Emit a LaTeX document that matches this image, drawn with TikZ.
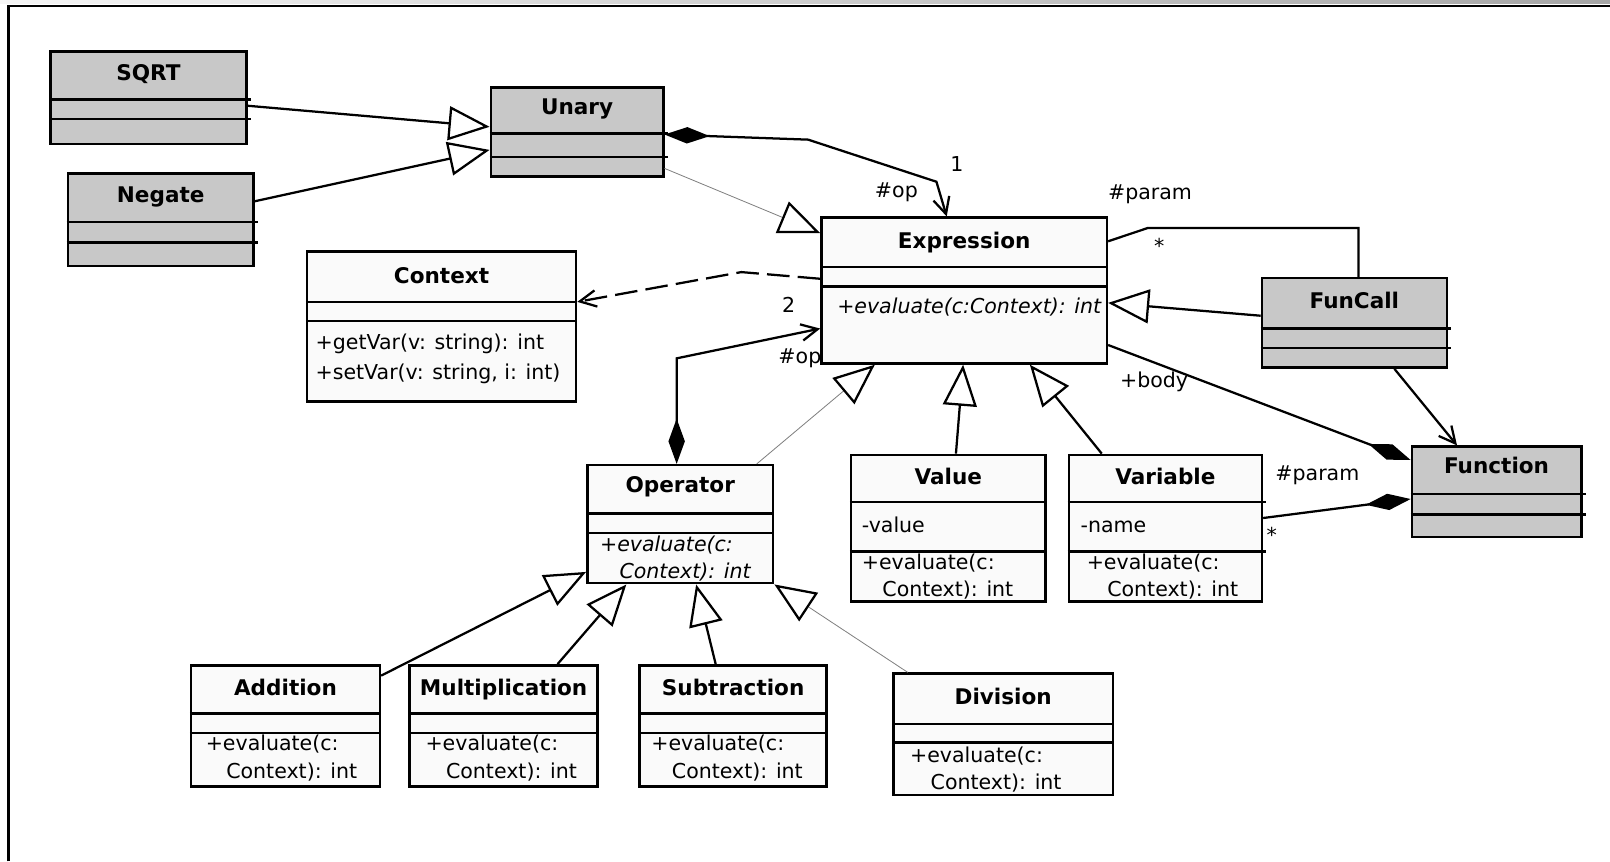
\documentclass[tikz,border=0pt]{standalone}
\usepackage{fontspec}
\setmainfont{DejaVu Sans}
\usepackage{tikz}
\usetikzlibrary{arrows.meta,fit}
\definecolor{boxgray}{RGB}{200,200,200}
\definecolor{boxwhite}{RGB}{250,250,250}
\tikzset{
  classbox/.style={draw, line width=1.2pt, inner sep=0pt, fill=boxwhite},
  greybox/.style={classbox, fill=boxgray},
  divider/.style={line width=1.2pt},
  classname/.style={anchor=base, inner sep=0pt, font=\fontsize{10.5}{12}\selectfont\bfseries},
  member/.style={anchor=base west, inner sep=0pt, align=left, font=\fontsize{10}{13.4}\selectfont},
  role/.style={anchor=base, inner sep=0pt, font=\fontsize{10}{12}\selectfont},
  gen/.style={line width=1.1pt, -{Triangle[open, length=20pt, width=16.5pt, line width=1.1pt]}},
  thin gen/.style={line width=0.4pt, draw=gray, -{Triangle[open, length=20pt, width=16.5pt, line width=1.1pt, color=black]}},
  comp/.style={line width=1.1pt, {Diamond[length=22pt, width=8pt]}-{Straight Barb[length=8pt, width=8pt, line width=1.1pt]}},
  whole/.style={line width=1.1pt, -{Diamond[length=22pt, width=8pt]}},
  nav/.style={line width=1.1pt, -{Straight Barb[length=8pt, width=8pt, line width=1.1pt]}},
  dep/.style={nav, dash pattern=on 11pt off 4pt}
}
\newcommand{\compartments}[4][]{%
  \draw[divider,#1] (#2.west |- 0,#3) -- (#2.east |- 0,#3);
  \draw[divider,#1] (#2.west |- 0,#4) -- (#2.east |- 0,#4);}

\begin{document}
\begin{tikzpicture}[x=0.5pt, y=-0.5pt]
\useasboundingbox (0,0) rectangle (1568,839);
% frame
\shade[left color=gray!8, right color=gray!70] (0,0) rectangle (1568,3);
\draw[line width=1.2pt] (8.5,839) -- (8.5,6) -- (1568,6);

% classes
\node[greybox, fit={(49,50) (240,140)}] (sqrt) {};
\node[greybox, fit={(66,169) (247,259)}] (negate) {};
\node[greybox, fit={(478,85) (646,172)}] (unary) {};
\node[classbox, fit={(800,212) (1078,354)}] (expr) {};
\node[classbox, fit={(299,245) (561,391)}] (ctx) {};
\node[greybox, fit={(1229,271) (1409,358)}] (funcall) {};
\node[greybox, fit={(1375,435) (1540,523)}] (function) {};
\node[classbox, fit={(572,453) (753,568)}] (operator) {};
\node[classbox, fit={(829,443) (1018,586)}] (value) {};
\node[classbox, fit={(1041,443) (1229,586)}] (variable) {};
\node[classbox, fit={(186,648) (370,766)}] (addition) {};
\node[classbox, fit={(399,648) (582,766)}] (mult) {};
\node[classbox, fit={(623,648) (805,766)}] (sub) {};
\node[classbox, fit={(870,656) (1084,774)}] (division) {};

\compartments[shorten >=-1.5pt]{sqrt}{97}{116}
\compartments[shorten >=-1.5pt]{negate}{216}{236}
\compartments[shorten >=-1.5pt]{unary}{130}{153}
\compartments{expr}{260}{279}
\compartments{ctx}{294}{312.5}
\compartments[shorten >=-1.5pt]{funcall}{320}{339}
\compartments[shorten >=-1.5pt]{function}{481}{501}
\compartments{operator}{500}{519}
\compartments{value}{489}{537}
\compartments[shorten >=-1.5pt]{variable}{489}{537}
\compartments{addition}{695}{714}
\compartments{mult}{695}{714}
\compartments{sub}{695}{714}
\compartments{division}{705}{723}

% names
\node[classname] (sqrt-t) at (sqrt.north |- 0,78) {SQRT};
\node[classname] (negate-t) at (negate.north |- 0,197) {Negate};
\node[classname] (unary-t) at (unary.north |- 0,112) {Unary};
\node[classname] (expr-t) at (expr.north |- 0,242) {Expression};
\node[classname] (ctx-t) at (ctx.north |- 0,276) {Context};
\node[classname] (funcall-t) at (funcall.north |- 0,300) {FunCall};
\node[classname] (function-t) at (function.north |- 0,461) {Function};
\node[classname] (operator-t) at (operator.north |- 0,480) {Operator};
\node[classname] (value-t) at (value.north |- 0,472) {Value};
\node[classname] (variable-t) at (variable.north |- 0,472) {Variable};
\node[classname] (addition-t) at (addition.north |- 0,677) {Addition};
\node[classname] (mult-t) at (mult.north |- 0,677) {Multiplication};
\node[classname] (sub-t) at (sub.north |- 0,677) {Subtraction};
\node[classname] (division-t) at (division.north |- 0,686) {Division};

% members (placed at the baseline of their last line)
\node[member, font=\fontsize{10}{13.4}\selectfont\itshape] (expr-m) at (815,305) {+evaluate(c:Context): int};
\node[member, font=\fontsize{10}{15}\selectfont] (ctx-m) at (307,370) {+getVar(v: string): int\\+setVar(v: string, i: int)};
\node[member, font=\fontsize{10}{12.8}\selectfont\itshape] (operator-m) at (584,563) {+evaluate(c:\\\hspace*{9.5pt}Context): int};
\node[member] (value-a) at (839,519) {-value};
\node[member] (value-m) at (839,581) {+evaluate(c:\\\hspace*{10pt}Context): int};
\node[member] (variable-a) at (1052,519) {-name};
\node[member] (variable-m) at (1058,581) {+evaluate(c:\\\hspace*{10pt}Context): int};
\node[member] (addition-m) at (200,758) {+evaluate(c:\\\hspace*{10pt}Context): int};
\node[member] (mult-m) at (414,758) {+evaluate(c:\\\hspace*{10pt}Context): int};
\node[member] (sub-m) at (634,758) {+evaluate(c:\\\hspace*{10pt}Context): int};
\node[member] (division-m) at (886,769) {+evaluate(c:\\\hspace*{10pt}Context): int};

% generalisations
\draw[gen] (sqrt.east |- 0,103) -- (unary.west |- 0,123.5);
\draw[gen] (negate.east |- 0,196) -- (unary.west |- 0,146);
\draw[thin gen] (unary.east |- 0,164) -- (expr.west |- 0,227);
\draw[thin gen] (operator.north -| 737,0) -- (expr.south -| 852,0);
\draw[gen] (value.north -| 931,0) -- (expr.south -| 938,0);
\draw[gen] (variable.north -| 1073,0) -- (expr.south -| 1003,0);
\draw[gen] (funcall.west |- 0,307.5) -- (expr.east |- 0,295);
\draw[gen] (addition.east |- 0,658) -- (operator.west |- 0,557);
\draw[gen] (mult.north -| 543,0) -- (operator.south -| 610,0);
\draw[gen] (sub.north -| 697,0) -- (operator.south -| 678,0);
\draw[thin gen] (division.north -| 884,0) -- (operator.south east);

% associations
\draw[comp] (unary.east |- 0,131) -- (787,136) -- (912,177) -- (expr.north -| 922,0);
\draw[comp] (operator.north -| 659,0) -- (659,349) -- (expr.west |- 0,320);
\draw[comp, -] (funcall.north -| 1323,0) -- (1323,222) -- (1118,222) -- (expr.east |- 0,235);
\draw[whole] (expr.east |- 0,336) -- (function.west |- 0,448);
\draw[whole] (variable.east |- 0,504.5) -- (function.west |- 0,486);
\draw[nav] (funcall.south -| 1358,0) -- (function.north -| 1419,0);
\draw[dep] (expr.west |- 0,271.5) -- (722,265) -- (ctx.east |- 0,294);

% roles
\node[role] (op-a) at (873,192) {\#op};
\node[role] (one) at (932,167.5) {1};
\node[role] (two) at (768,304) {2};
\node[role] (op-b) at (779,354) {\#op};
\node[role] (param-a) at (1120,194) {\#param};
\node[role, anchor=center] (many-a) at (1129,239) {*};
\node[role] (body) at (1124,377) {+body};
\node[role] (param-b) at (1283,467.5) {\#param};
\node[role, anchor=center] (many-b) at (1238.5,521) {*};
\end{tikzpicture}
\end{document}
